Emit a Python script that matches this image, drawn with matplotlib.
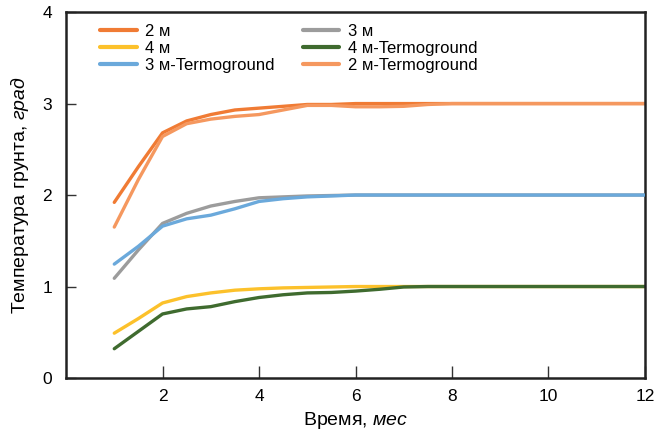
import matplotlib.pyplot as plt

plt.rcParams['font.family'] = ['Liberation Sans', 'DejaVu Sans']
plt.rcParams['mathtext.fontset'] = 'custom'
plt.rcParams['mathtext.rm'] = 'Liberation Sans'
plt.rcParams['mathtext.it'] = 'Liberation Sans:italic'

# месяцы
t = [1, 1.5, 2, 2.5, 3, 3.5, 4, 4.5, 5, 5.5, 6, 6.5, 7, 7.5, 8, 9, 10, 11, 12]

m2 = [1.92, 2.31, 2.68, 2.81, 2.88, 2.93, 2.95, 2.97, 2.99, 2.99, 3.0, 3.0, 3.0, 3.0, 3.0, 3.0, 3.0, 3.0, 3.0]
m2_t = [1.65, 2.17, 2.64, 2.78, 2.83, 2.86, 2.88, 2.93, 2.98, 2.98, 2.965, 2.965, 2.97, 2.99, 3.0, 3.0, 3.0, 3.0, 3.0]
m3 = [1.09, 1.4, 1.69, 1.8, 1.88, 1.93, 1.97, 1.98, 1.99, 1.995, 2.0, 2.0, 2.0, 2.0, 2.0, 2.0, 2.0, 2.0, 2.0]
m3_t = [1.245, 1.44, 1.66, 1.74, 1.78, 1.85, 1.93, 1.96, 1.98, 1.99, 2.0, 2.0, 2.0, 2.0, 2.0, 2.0, 2.0, 2.0, 2.0]
m4 = [0.49, 0.65, 0.82, 0.89, 0.93, 0.96, 0.975, 0.985, 0.99, 0.995, 1.0, 1.0, 1.0, 1.0, 1.0, 1.0, 1.0, 1.0, 1.0]
m4_t = [0.32, 0.51, 0.7, 0.755, 0.78, 0.835, 0.88, 0.91, 0.93, 0.935, 0.95, 0.97, 0.995, 1.0, 1.0, 1.0, 1.0, 1.0, 1.0]

fig = plt.figure(figsize=(6.67, 4.32), dpi=100)
ax = fig.add_axes([0.099, 0.125, 0.868, 0.847])

lw = 2.4
l1, = ax.plot(t, m2, color='#F07B34', lw=lw, label='2 м', solid_capstyle='round')
l2, = ax.plot(t, m4, color='#FCC12B', lw=lw, label='4 м', solid_capstyle='round')
l3, = ax.plot(t, m3_t, color='#6BA9DB', lw=lw, label='3 м-Termoground', solid_capstyle='round')
l4, = ax.plot(t, m3, color='#9C9C9C', lw=lw, label='3 м', solid_capstyle='round')
l5, = ax.plot(t, m4_t, color='#3F6B2F', lw=lw, label='4 м-Termoground', solid_capstyle='round')
l6, = ax.plot(t, m2_t, color='#F5985F', lw=lw, label='2 м-Termoground', solid_capstyle='round')
l3.set_zorder(3)

ax.set_xlim(0, 12)
ax.set_ylim(0, 4)
ax.set_xticks([2, 4, 6, 8, 10, 12])
ax.set_yticks([0, 1, 2, 3, 4])
ax.tick_params(axis='x', direction='in', length=9, width=1, labelsize=12.5, pad=8, color='#333333')
ax.tick_params(axis='y', direction='in', length=7, width=1, labelsize=12.5, pad=10, color='#333333')
for s in ax.spines.values():
    s.set_linewidth(1.8)
    s.set_color('#222222')

ax.set_xlabel('Время, $\\mathit{мес}$', fontsize=14, labelpad=4)
ax.set_ylabel('Температура грунта, $\\mathit{град}$', fontsize=14, labelpad=8)

leg = ax.legend(handles=[l1, l2, l3, l4, l5, l6], ncol=2, frameon=False, fontsize=12,
                loc='upper left', bbox_to_anchor=(0.047, 0.985), handlelength=2.2,
                handletextpad=0.5, labelspacing=0.1, columnspacing=1.7, borderaxespad=0)
for h in leg.get_lines():
    h.set_linewidth(3)

fig.savefig('out.png', dpi=100)
